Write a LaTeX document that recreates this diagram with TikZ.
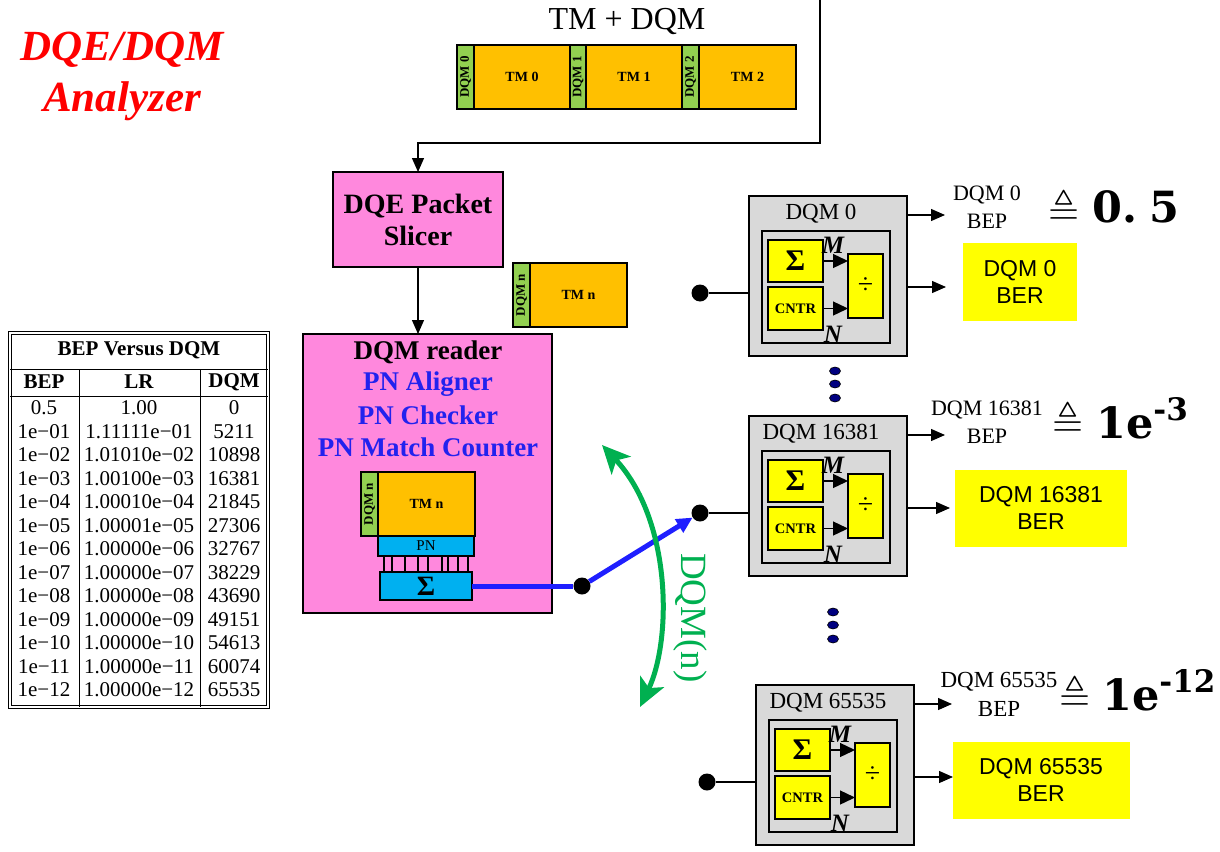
\documentclass[tikz,border=0pt]{standalone}
\usepackage{fontspec}
\setmainfont{Liberation Serif}
\newfontfamily\arialf{Liberation Sans}
\newfontfamily\mathnum{DejaVu Serif}
\usepackage{amssymb}
\usetikzlibrary{arrows.meta,calc}
\newcommand\fsz[1]{\fontsize{#1}{#1}\selectfont}
\definecolor{tmorange}{HTML}{FFC000}
\definecolor{dqgreen}{HTML}{92D050}
\definecolor{pinkbox}{HTML}{FF88DD}
\definecolor{cyanbox}{HTML}{00B0F0}
\definecolor{gbg}{HTML}{D9D9D9}
\definecolor{pnblue}{HTML}{2222EE}
\definecolor{arcgreen}{HTML}{00B050}
\definecolor{navydot}{HTML}{000080}
\definecolor{lineblue}{HTML}{1F1FFF}
\definecolor{ybox}{HTML}{FFFF00}
\definecolor{titlered}{HTML}{FF0000}
\tikzset{
  frame/.style={draw=black,line width=1.5pt},
  greenseg/.style={frame,fill=dqgreen,font=\fsz{13}\bfseries},
  orangeseg/.style={frame,fill=tmorange,font=\fsz{14}\bfseries},
  pinkbx/.style={frame,fill=pinkbox},
  cyanbx/.style={frame,fill=cyanbox},
  graybx/.style={frame,fill=gbg},
  yellowbx/.style={frame,fill=ybox},
  outyellow/.style={fill=ybox,draw=none,align=center,font=\arialf\fsz{23},text depth=0pt},
  arr/.style={line width=1.3pt,-{Triangle[length=14pt,width=12pt]}},
  sarr/.style={line width=1.3pt,-{Triangle[length=15pt,width=14pt]}},
  dot/.style={circle,fill=black,minimum size=17pt,inner sep=0pt},
  tcell/.style={font=\fsz{21},inner sep=0pt},
  thead/.style={font=\fsz{21}\bfseries,inner sep=0pt},
  bluetxt/.style={text=pnblue,font=\fsz{27}\bfseries},
  beplbl/.style={align=center,font=\fsz{22},inner sep=0pt},
  eqsym/.style={font=\fsz{40},inner sep=0pt},
  eqval/.style={anchor=west,font=\mathnum\fsz{43}\bfseries,inner sep=0pt},
}
\newcommand\bx[7]{\node[#6,anchor=north west,minimum width=#4pt,minimum height=#5pt,inner sep=0pt,outer sep=0pt] (#1) at ({#2},{#3}) {#7};}
\newcommand\dqmblock[4]{%
  \bx{#1g}{#2}{#3}{158}{160}{graybx}{}
  \node[font=\fsz{23},inner sep=0pt] (#1t) at ({#2+72},{#3+18}) {#4};
  \bx{#1i}{#2+13}{#3+35}{128}{112}{graybx}{}
  \bx{#1s}{#2+19}{#3+44}{55}{42}{yellowbx}{\fsz{30}\bfseries Σ}
  \bx{#1c}{#2+19}{#3+91}{55}{43}{yellowbx}{\fsz{14.5}\bfseries CNTR}
  \bx{#1d}{#2+99}{#3+58}{35}{64}{yellowbx}{\fsz{28}÷}
  \draw[sarr] (#1s.east) -- (#1s.east -| #1d.west);
  \draw[sarr] (#1c.east) -- (#1c.east -| #1d.west);
  \node[font=\fsz{25}\bfseries\itshape,inner sep=0pt] (#1M) at ({#2+84},{#3+49}) {M};
  \node[font=\fsz{25}\bfseries\itshape,inner sep=0pt] (#1N) at ({#2+84},{#3+138}) {N};
  \node[dot] (#1in) at ({#2-49},{#3+97}) {};
  \draw[line width=1.3pt] (#1in) -- (#1g.west |- #1in);
  \coordinate (#1bep) at ({#2+196},{#3+19});
  \draw[arr] (#1g.east |- #1bep) -- (#1bep);
}
\begin{document}
\begin{tikzpicture}[x=1pt,y=-1pt]
\useasboundingbox (0,0) rectangle (1220,851);
% title
\node[text=titlered,font=\fsz{43}\bfseries\itshape,align=center,inner sep=0pt] (title) at (122,76) {DQE/DQM\\[8pt]Analyzer};
% TM + DQM
\node[font=\fsz{32},inner sep=0pt] (tmdqm) at (627,22) {TM + DQM};
\bx{d0}{457}{45}{17}{64}{greenseg}{\rotatebox{90}{DQM 0}}
\bx{t0}{474}{45}{96}{64}{orangeseg}{TM 0}
\bx{d1}{570}{45}{16}{64}{greenseg}{\rotatebox{90}{DQM 1}}
\bx{t1}{586}{45}{96}{64}{orangeseg}{TM 1}
\bx{d2}{682}{45}{17}{64}{greenseg}{\rotatebox{90}{DQM 2}}
\bx{t2}{699}{45}{97}{64}{orangeseg}{TM 2}
% slicer
\bx{slicer}{333}{172}{170}{95}{pinkbx,align=center,font=\fsz{28}\bfseries}{DQE Packet\\[4pt]Slicer}
\coordinate (topin) at (820,0);
\coordinate (bend) at (820,143);
\draw[arr] (topin) -- (bend) -| (slicer.north);
% TM n standalone
\bx{dn}{513}{263}{17}{64}{greenseg}{\rotatebox{90}{DQM n}}
\bx{tn}{530}{263}{97}{64}{orangeseg}{TM n}
% reader
\bx{reader}{303}{334}{249}{279}{pinkbx}{}
\draw[arr] (slicer.south) -- (slicer.south |- reader.north);
\node[font=\fsz{27}\bfseries,inner sep=0pt] (r1) at (428,352) {DQM reader};
\node[bluetxt,inner sep=0pt] (r2) at (428,384) {PN Aligner};
\node[bluetxt,inner sep=0pt] (r3) at (428,415) {PN Checker};
\node[bluetxt,inner sep=0pt] (r4) at (428,447) {PN Match Counter};
\bx{dn2}{361}{472}{17}{64}{greenseg}{\rotatebox{90}{DQM n}}
\bx{tn2}{378}{472}{97}{64}{orangeseg}{TM n}
\bx{pn}{378}{536}{96}{20}{cyanbx,font=\fsz{15}}{PN}
\bx{sig}{380}{572}{92}{28}{cyanbx,font=\fsz{28}\bfseries}{Σ}
\foreach \xx in {384,392,405,418,428,442,448,458,468}
  \draw[line width=1.2pt] (\xx,556) -- (\xx,572);
% DQM blocks
\dqmblock{ba}{749}{196}{DQM 0}
\dqmblock{bb}{749}{416}{DQM 16381}
\dqmblock{bc}{756}{685}{DQM 65535}
% BER arrows and boxes
\coordinate (baber) at (946,287);
\draw[arr] (bag.east |- baber) -- (baber);
\node[outyellow,minimum width=114pt,minimum height=78pt] (ya) at (1020,282) {DQM 0\\[4pt]BER};
\coordinate (bbber) at (950,508);
\draw[arr] (bbg.east |- bbber) -- (bbber);
\node[outyellow,minimum width=172pt,minimum height=77pt] (yb) at (1041,508) {DQM 16381\\[4pt]BER};
\coordinate (bcber) at (953,777);
\draw[arr] (bcg.east |- bcber) -- (bcber);
\node[outyellow,minimum width=177pt,minimum height=77pt] (yc) at (1041,780) {DQM 65535\\[4pt]BER};
% BEP labels
\node[beplbl] (la) at (987,207) {DQM 0\\[6pt]BEP};
\node[beplbl] (lb) at (987,422) {DQM 16381\\[6pt]BEP};
\node[beplbl,font=\fsz{23}] (lc) at (999,694) {DQM 65535\\[6pt]BEP};
% triangleq values
\node[eqsym] (qa) at (1064,208) {$\triangleq$};
\node[eqval] (va) at (1092,207) {0.\;5};
\node[eqsym] (qb) at (1068,420) {$\triangleq$};
\node[eqval] (vb) at (1096,418) {1e\raisebox{18pt}{\fsz{31}-3}};
\node[eqsym] (qc) at (1075,694) {$\triangleq$};
\node[eqval] (vc) at (1102,690) {1e\raisebox{18pt}{\fsz{31}-12}};
% ellipsis dots
\foreach \yy in {371,384,398} \fill[navydot,draw=black,line width=0.6pt] (835,\yy) ellipse (5.5 and 4);
\foreach \yy in {612,625,639} \fill[navydot,draw=black,line width=0.6pt] (833,\yy) ellipse (5.5 and 4);
% blue path
\node[dot] (junc) at (582,586) {};
\draw[lineblue,line width=5pt] (sig.east) -- (junc);
\draw[lineblue,line width=5pt,-{Triangle[length=16pt,width=15pt]}] (junc) -- (bbin);
% green arc
\coordinate (ga) at (602,445);
\coordinate (gb) at (640,707);
\draw[arcgreen,line width=5pt,{Stealth[length=28pt,width=26pt,inset=7pt]}-{Stealth[length=28pt,width=26pt,inset=7pt]}] (ga) .. controls (672,520) and (672,640) .. (gb);
\node[rotate=-90,text=arcgreen,font=\fsz{37},inner sep=0pt] (dqmn) at (690,618) {DQM(n)};
% table
\draw[line width=0.9pt,double,double distance=1.3pt] (10,333) rectangle (268,707);
\draw[line width=1pt] (10,369) -- (268,369);
\draw[line width=1pt] (10,396) -- (268,396);
\draw[line width=1pt] (79,369) -- (79,707);
\draw[line width=1pt] (200,369) -- (200,707);
\node[thead] (th) at (139,350) {BEP Versus DQM};
\node[thead] (h1) at (44,382) {BEP};
\node[thead] (h2) at (139,382) {LR};
\node[thead] (h3) at (234,382) {DQM};
\foreach \b/\l/\d [count=\i from 0] in {0.5/1.00/0,1e−01/1.11111e−01/5211,1e−02/1.01010e−02/10898,1e−03/1.00100e−03/16381,1e−04/1.00010e−04/21845,1e−05/1.00001e−05/27306,1e−06/1.00000e−06/32767,1e−07/1.00000e−07/38229,1e−08/1.00000e−08/43690,1e−09/1.00000e−09/49151,1e−10/1.00000e−10/54613,1e−11/1.00000e−11/60074,1e−12/1.00000e−12/65535}{
  \node[tcell] (ca\i) at (44,{408+23.5*\i}) {\b};
  \node[tcell] (cb\i) at (139,{408+23.5*\i}) {\l};
  \node[tcell] (cc\i) at (234,{408+23.5*\i}) {\d};
}
\end{tikzpicture}
\end{document}
